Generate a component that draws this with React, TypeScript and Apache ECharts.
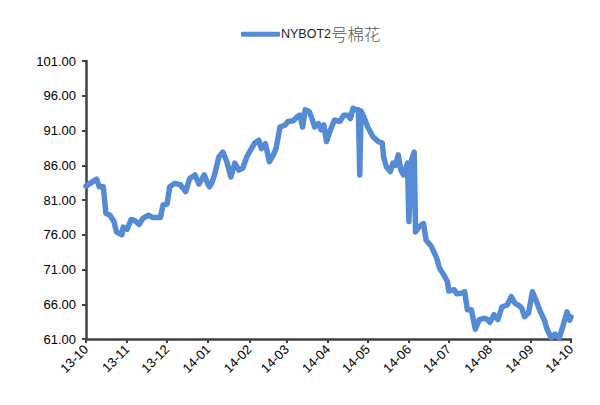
import React, { useEffect, useRef } from "react";
import * as echarts from "echarts";

const seriesName = "NYBOT2号棉花";
const yMin = 61;
const yMax = 101;
const yStep = 5;

const sampleDates = [
  "2013-10-01","2013-10-08","2013-10-09","2013-10-11","2013-10-14","2013-10-16","2013-10-19","2013-10-22","2013-10-24","2013-10-28",
  "2013-10-29","2013-11-01","2013-11-04","2013-11-07","2013-11-10","2013-11-13","2013-11-17","2013-11-20","2013-11-26","2013-11-28",
  "2013-12-01","2013-12-03","2013-12-07","2013-12-11","2013-12-15","2013-12-18","2013-12-22","2013-12-25","2013-12-29","2014-01-01",
  "2014-01-02","2014-01-04","2014-01-06","2014-01-09","2014-01-12","2014-01-15","2014-01-18","2014-01-21","2014-01-24","2014-01-27",
  "2014-01-30","2014-02-01","2014-02-05","2014-02-08","2014-02-10","2014-02-13","2014-02-16","2014-02-19","2014-02-21","2014-02-24",
  "2014-02-28","2014-03-02","2014-03-06","2014-03-09","2014-03-11","2014-03-13","2014-03-15","2014-03-18","2014-03-20","2014-03-22",
  "2014-03-25","2014-03-27","2014-03-29","2014-03-31","2014-04-03","2014-04-06","2014-04-10","2014-04-13","2014-04-16","2014-04-18",
  "2014-04-20","2014-04-22","2014-04-24","2014-04-25","2014-04-26","2014-04-28","2014-05-01","2014-05-05","2014-05-09","2014-05-12",
  "2014-05-13","2014-05-15","2014-05-18","2014-05-20","2014-05-22","2014-05-24","2014-05-26","2014-05-28","2014-05-31","2014-06-01",
  "2014-06-03","2014-06-05","2014-06-06","2014-06-09","2014-06-12","2014-06-14","2014-06-18","2014-06-22","2014-06-24","2014-06-27",
  "2014-06-30","2014-07-01","2014-07-05","2014-07-07","2014-07-11","2014-07-13","2014-07-15","2014-07-18","2014-07-21","2014-07-24",
  "2014-07-28","2014-07-30","2014-08-01","2014-08-04","2014-08-07","2014-08-10","2014-08-14","2014-08-17","2014-08-20","2014-08-23",
  "2014-08-25","2014-08-27","2014-08-30","2014-09-02","2014-09-05","2014-09-08","2014-09-11","2014-09-13","2014-09-16","2014-09-19",
  "2014-09-22","2014-09-25","2014-09-28","2014-09-30","2014-10-01"
];

const sampleValues = [
  83.0,83.9,84.0,82.9,82.9,79.1,78.8,77.9,76.4,76.0,
  77.1,76.8,78.2,78.0,77.5,78.4,78.8,78.5,78.5,80.3,
  80.4,82.9,83.4,83.2,82.2,84.1,84.6,83.3,84.6,83.2,
  82.9,83.6,84.8,87.2,87.9,86.5,84.3,86.3,85.3,85.6,
  87.2,87.9,89.2,89.6,88.4,89.1,86.5,87.5,88.4,91.5,
  91.8,92.3,92.4,93.0,93.2,91.5,94.0,93.7,92.8,91.5,
  92.0,91.1,91.8,89.4,91.1,92.5,92.3,93.2,93.2,92.7,
  94.2,94.0,94.0,84.6,93.8,93.0,91.5,90.1,89.4,89.2,
  87.2,85.8,85.1,86.3,86.0,87.5,85.3,84.6,86.3,77.9,
  86.8,87.9,76.4,77.2,77.6,75.2,74.3,72.6,71.2,70.3,
  69.3,67.9,68.1,67.5,67.6,67.8,65.2,65.2,62.4,63.8,
  64.0,63.8,63.4,64.5,63.8,65.6,65.9,67.1,66.1,65.8,
  65.4,64.2,64.7,67.8,66.4,64.9,63.7,62.4,61.2,61.7,
  61.1,62.9,64.9,63.7,64.2
];

function buildCategories(start: string, end: string): string[] {
  const out: string[] = [];
  const d = new Date(start + "T00:00:00Z");
  const e = new Date(end + "T00:00:00Z");
  while (d.getTime() <= e.getTime()) {
    out.push(d.toISOString().slice(0, 10));
    d.setUTCDate(d.getUTCDate() + 1);
  }
  return out;
}

const categories = buildCategories("2013-10-01", "2014-10-01");

export default function App() {
  const ref = useRef<HTMLDivElement>(null);
  useEffect(() => {
    if (!ref.current) return;
    const chart = echarts.init(ref.current, null, { renderer: "svg" });
    const isMonthStart = (_i: number, v: string) => v.slice(8) === "01";
    chart.setOption({
      animation: false,
      backgroundColor: "#ffffff",
      legend: {
        data: [{ name: seriesName, icon: "roundRect" }],
        top: 21,
        left: 236,
        itemWidth: 39,
        itemHeight: 5,
        itemGap: 6,
        itemStyle: { color: "#558BD5", borderWidth: 0 },
        formatter: (name: string) => "{a|" + name.slice(0, 6) + "}{b|" + name.slice(6) + "}",
        textStyle: {
          fontSize: 13,
          color: "#222",
          padding: [0, 0, 0, -4],
          rich: {
            a: { fontSize: 12.5, color: "#222", fontFamily: "Liberation Sans, sans-serif" },
            b: { fontSize: 16.5, color: "#555", fontFamily: "Noto Sans CJK SC, sans-serif", fontWeight: 300 },
          },
        },
      },
      grid: { left: 86, right: 29, top: 61, bottom: 66, containLabel: false },
      xAxis: {
        type: "category",
        data: categories,
        boundaryGap: false,
        axisLine: { lineStyle: { color: "#404040", width: 2.5 } },
        axisTick: { interval: isMonthStart, length: 4, lineStyle: { color: "#404040", width: 2 } },
        axisLabel: {
          interval: isMonthStart,
          rotate: 45,
          fontSize: 13,
          color: "#000",
          margin: 8,
          fontFamily: "Liberation Sans, sans-serif",
          formatter: (v: string) => v.slice(2, 7),
        },
        splitLine: { show: false },
      },
      yAxis: {
        type: "value",
        min: yMin,
        max: yMax,
        interval: yStep,
        axisLine: { show: true, lineStyle: { color: "#404040", width: 2.5 } },
        axisTick: { show: true, length: 4, lineStyle: { color: "#404040", width: 2 } },
        axisLabel: {
          fontSize: 13,
          color: "#000",
          margin: 10,
          fontFamily: "Liberation Sans, sans-serif",
          formatter: (v: number) => v.toFixed(2),
        },
        splitLine: { show: false },
      },
      series: [
        {
          name: seriesName,
          type: "line",
          data: sampleDates.map((d, i) => [d, sampleValues[i]]),
          showSymbol: false,
          symbol: "none",
          lineStyle: { color: "#558BD5", width: 5.5, cap: "round", join: "round" },
          itemStyle: { color: "#558BD5" },
        },
      ],
    });
    return () => chart.dispose();
  }, []);
  return <div ref={ref} style={{ width: 600, height: 405, position: "absolute", left: 0, top: 0 }} />;
}
